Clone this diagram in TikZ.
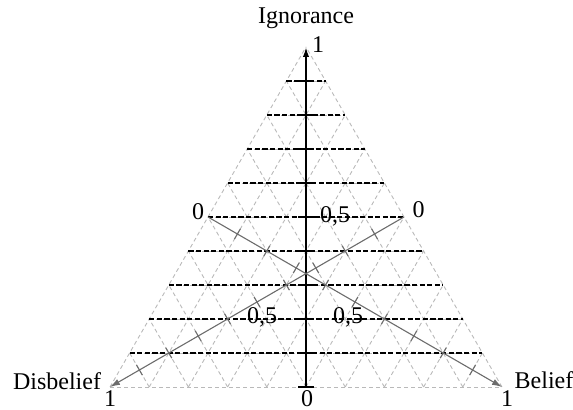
\documentclass[tikz,border=0pt]{standalone}
\usepackage{fontspec}
\setmainfont{Liberation Serif}
\usetikzlibrary{calc,arrows.meta}

\begin{document}
\begin{tikzpicture}[x=0.5pt, y=0.5pt, font=\fontsize{12}{14}\selectfont,
    grid/.style={gray!55, dash pattern=on 2pt off 1.5pt, line width=0.45pt},
    level/.style={black, dash pattern=on 2.6pt off 1.2pt, line width=0.85pt},
    axis/.style={black, line width=0.9pt},
    diag/.style={gray!85!black, line width=0.55pt},
    tip/.style={-{Latex[length=5pt,width=3.2pt]}}]
    \useasboundingbox (0,0) rectangle (573,410);
    \coordinate (dis) at (110,23);
    \coordinate (bel) at (502,23);
    \coordinate (ign) at (306,363);
    \coordinate (mb) at ($(dis)!0.5!(bel)$);
    \coordinate (ml) at ($(dis)!0.5!(ign)$);
    \coordinate (mr) at ($(bel)!0.5!(ign)$);
    % grid
    \foreach \i in {0,...,9} {
        \draw[grid] ($(dis)!\i/10!(ign)$) -- ($(bel)!\i/10!(ign)$);
        \draw[grid] ($(dis)!\i/10!(bel)$) -- ($(ign)!\i/10!(bel)$);
        \draw[grid] ($(bel)!\i/10!(dis)$) -- ($(ign)!\i/10!(dis)$);
    }
    \foreach \i in {1,...,9}
        \draw[level] ($(dis)!\i/10!(ign)$) -- ($(bel)!\i/10!(ign)$);
    % axes
    \draw[axis, tip] (mb) -- (ign);
    \draw[diag, tip] (ml) -- (bel);
    \draw[diag, tip] (mr) -- (dis);
    \foreach \k in {0,...,9}
        \draw[axis] ($(mb)!\k/10!(ign)$) ++(-8,0) -- ++(16,0);
    \foreach \k in {1,...,9} {
        \draw[diag] ($($(ml)!\k/10!(bel)$)!3pt!90:(bel)$) -- ($($(ml)!\k/10!(bel)$)!3pt!-90:(bel)$);
        \draw[diag] ($($(mr)!\k/10!(dis)$)!3pt!90:(dis)$) -- ($($(mr)!\k/10!(dis)$)!3pt!-90:(dis)$);
    }
    % labels
    \node (lign) at ($(ign)+(0,29)$) {Ignorance};
    \node (lign1) at ($(ign)+(12,2)$) {1};
    \node (ldis) at ($(dis)+(-53,6)$) {Disbelief};
    \node (ldis1) at ($(dis)+(0,-12)$) {1};
    \node (lbel) at ($(bel)+(42,7)$) {Belief};
    \node (lbel1) at ($(bel)+(5,-12)$) {1};
    \node (lmb) at ($(mb)+(1,-12)$) {0};
    \node (lml) at ($(ml)+(-10,5)$) {0};
    \node (lmr) at ($(mr)+(14.5,7)$) {0};
    \node (hign) at ($($(mb)!0.5!(ign)$)+(29,1)$) {0,5};
    \node (hdis) at ($($(mr)!0.5!(dis)$)+(5,-15)$) {0,5};
    \node (hbel) at ($($(ml)!0.5!(bel)$)+(-7,-15)$) {0,5};
\end{tikzpicture}
\end{document}
